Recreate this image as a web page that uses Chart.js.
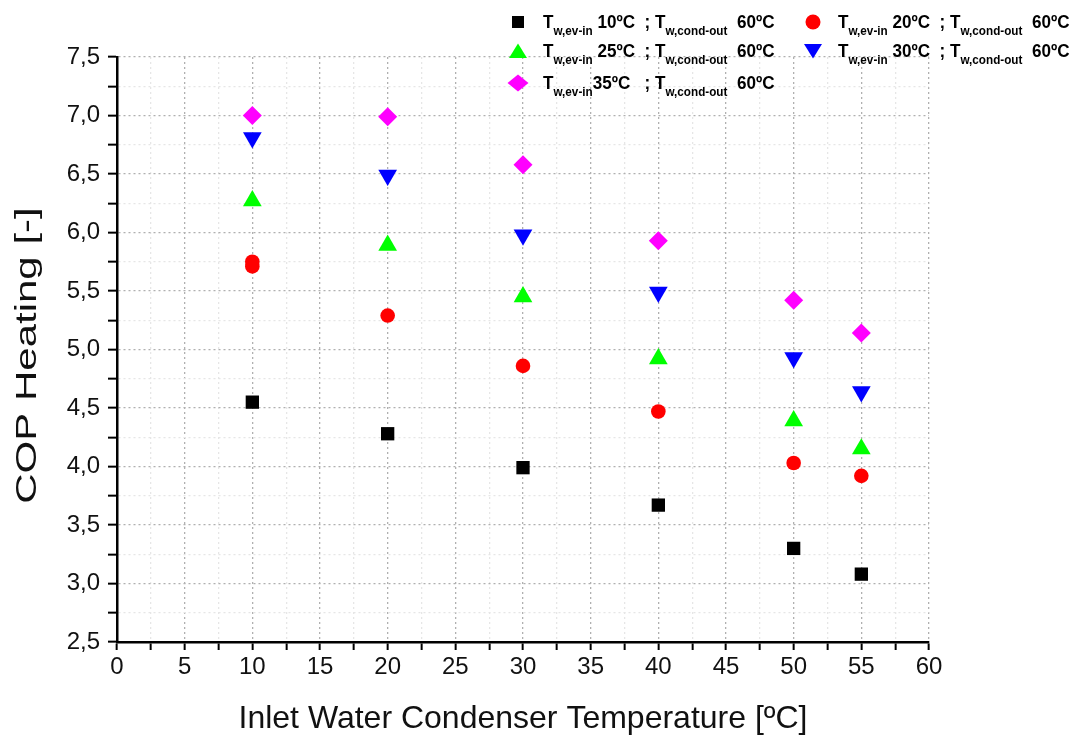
<!DOCTYPE html>
<html>
<head>
<meta charset="utf-8">
<script src="https://cdn.jsdelivr.net/npm/chart.js@4.4.0/dist/chart.umd.min.js"></script>
<style>
    body { margin: 0; background: #fff; }
    #wrap { position: relative; width: 1081px; height: 738px; }
    .leg { position: absolute; display: flex; align-items: center; color: #000; }
    .leg svg { margin-right: 15px; }
    .leg span { font: bold 19px 'Liberation Sans', Arial, sans-serif; white-space: pre; display: inline-block; transform: scaleX(0.9); transform-origin: left center; }
    .leg sub { font-size: 13px; vertical-align: -7px; line-height: 0; }
</style>
</head>
<body>
<div id="wrap">
    <canvas id="copChart" width="1081" height="738"></canvas>
</div>
<script>
// data
const xInlet = [10, 20, 30, 40, 50, 55];
const xInlet20 = [10, 10, 20, 30, 40, 50, 55];
const cop10 = [4.55, 4.28, 3.99, 3.67, 3.30, 3.08];
const cop20 = [5.75, 5.71, 5.29, 4.86, 4.47, 4.03, 3.92];
const cop25 = [6.27, 5.89, 5.45, 4.92, 4.39, 4.15];
const cop30 = [6.81, 6.49, 5.98, 5.49, 4.93, 4.64];
const cop35 = [7.00, 6.99, 6.58, 5.93, 5.42, 5.14];

const evapTemps = ['10', '20', '25', '30', '35'];
const condTemp = '60';
const colors = ['#000000', '#ff0000', '#00ff00', '#0000ff', '#ff00ff'];
const yTitle = 'COP Heating [-]';
const xTitle = 'Inlet Water Condenser Temperature [ºC]';

function points(xs, ys) {
    return ys.map((y, i) => ({ x: xs[i], y: y }));
}

const fontFamily = "'Liberation Sans', Arial, sans-serif";

// y title is drawn stretched along its length, like in the original figure
const yTitlePlugin = {
    id: 'yTitle',
    afterDraw(chart) {
        const area = chart.chartArea;
        const c = chart.ctx;
        c.save();
        c.translate(36, (area.top + area.bottom) / 2 + 6);
        c.rotate(-Math.PI / 2);
        c.scale(1.4, 1);
        c.fillStyle = '#111';
        c.font = '30px ' + fontFamily;
        c.textAlign = 'center';
        c.textBaseline = 'alphabetic';
        c.fillText(yTitle, 0, 0);
        c.restore();
    }
};

const ctx = document.getElementById('copChart').getContext('2d');
const copChart = new Chart(ctx, {
    type: 'scatter',
    data: {
        datasets: [
            { data: points(xInlet, cop10), pointStyle: 'rect', pointRadius: 9.4, backgroundColor: colors[0], borderColor: colors[0], borderWidth: 0 },
            { data: points(xInlet20, cop20), pointStyle: 'circle', pointRadius: 7.3, backgroundColor: colors[1], borderColor: colors[1], borderWidth: 0 },
            { data: points(xInlet, cop25), pointStyle: 'triangle', pointRadius: 10.8, backgroundColor: colors[2], borderColor: colors[2], borderWidth: 0 },
            { data: points(xInlet, cop30), pointStyle: 'triangle', rotation: 180, pointRadius: 10.8, backgroundColor: colors[3], borderColor: colors[3], borderWidth: 0 },
            { data: points(xInlet, cop35), pointStyle: 'rectRot', pointRadius: 9.5, backgroundColor: colors[4], borderColor: colors[4], borderWidth: 0 }
        ]
    },
    options: {
        responsive: false,
        animation: false,
        layout: { padding: { left: 0, right: 152, top: 57, bottom: 0 } },
        plugins: { legend: { display: false }, tooltip: { enabled: false } },
        scales: {
            x: {
                type: 'linear',
                min: 0,
                max: 60,
                afterFit: scale => { scale.height = 96; },
                ticks: {
                    stepSize: 2.5,
                    autoSkip: false,
                    maxRotation: 0,
                    padding: 3,
                    color: '#111',
                    font: { family: fontFamily, size: 24 },
                    callback: v => (v % 5 === 0 ? String(v) : '')
                },
                grid: {
                    color: c => (c.tick && c.tick.value % 5 === 0 ? '#b0b0b0' : '#e6e6e6'),
                    lineWidth: 1.3,
                    tickColor: '#000',
                    tickLength: 8,
                    tickWidth: 2
                },
                border: { color: '#000', width: 2.5, dash: [2, 3] },
                title: {
                    display: true,
                    text: xTitle,
                    color: '#111',
                    font: { family: fontFamily, size: 32 },
                    padding: { top: 0, bottom: 0 }
                }
            },
            y: {
                min: 2.5,
                max: 7.5,
                afterFit: scale => { scale.width = 117; },
                ticks: {
                    stepSize: 0.25,
                    autoSkip: false,
                    padding: 8,
                    color: '#111',
                    font: { family: fontFamily, size: 24 },
                    callback: v => (Math.abs(v * 2 - Math.round(v * 2)) < 1e-6 ? v.toFixed(1).replace('.', ',') : '')
                },
                grid: {
                    color: c => (c.tick && Math.abs(c.tick.value * 2 - Math.round(c.tick.value * 2)) < 1e-6 ? '#b0b0b0' : '#e6e6e6'),
                    lineWidth: 1.3,
                    tickColor: '#000',
                    tickLength: 9,
                    tickWidth: 2
                },
                border: { color: '#000', width: 2.5, dash: [2, 3] }
            }
        }
    },
    plugins: [yTitlePlugin]
});

// legend with subscripts, as html over the canvas
const markerSvg = [
    '<svg width="20" height="20"><rect x="4" y="4" width="12" height="12" fill="#000"/></svg>',
    '<svg width="20" height="20"><circle cx="10" cy="10" r="7.5" fill="#ff0000"/></svg>',
    '<svg width="20" height="20"><polygon points="10,2.5 19,17 1,17" fill="#00ff00"/></svg>',
    '<svg width="20" height="20"><polygon points="1,3 19,3 10,17.5" fill="#0000ff"/></svg>',
    '<svg width="22" height="20"><polygon points="11,1.5 21.5,10 11,18.5 0.5,10" fill="#ff00ff"/></svg>'
];
const legendPos = [[508, 11], [803, 11], [508, 40], [803, 40], [507, 72]];
const wrap = document.getElementById('wrap');
evapTemps.forEach((t, i) => {
    const item = document.createElement('div');
    item.className = 'leg';
    item.style.left = legendPos[i][0] + 'px';
    item.style.top = legendPos[i][1] + 'px';
    const head = i === 4 ? t + 'ºC&nbsp;&nbsp; ' : ' ' + t + 'ºC&nbsp; ';
    item.innerHTML = markerSvg[i] + '<span>T<sub>w,ev-in</sub>' + head + '; T<sub>w,cond-out</sub>&nbsp; ' + condTemp + 'ºC</span>';
    if (i === 4) item.querySelector('svg').style.marginRight = '14px';
    wrap.appendChild(item);
});
</script>
</body>
</html>
